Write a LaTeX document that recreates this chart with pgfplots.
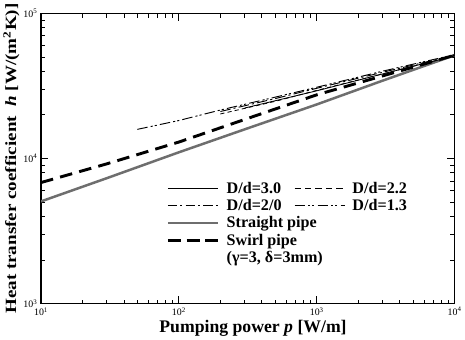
\documentclass[border=0pt]{standalone}
\usepackage{pgfplots}
\pgfplotsset{compat=1.18}
\usepackage{fontspec}
\setmainfont{Liberation Serif}
\definecolor{strgray}{RGB}{110,110,110}
\begin{document}
\begin{tikzpicture}
\begin{axis}[
 xmode=log, ymode=log,
 scale only axis, width=396bp, height=278bp,
 xmin=10, xmax=1e4, ymin=1e3, ymax=1e5,
 axis line style={line width=1.2pt},
 every tick/.style={black, line width=0.8pt},
 major tick length=7bp, minor tick length=4bp,
 tick align=inside,
 xtick={10,100,1000,10000},
 xticklabels={10\textsuperscript{1},10\textsuperscript{2},10\textsuperscript{3},10\textsuperscript{4}},
 ytick={1000,10000,100000},
 yticklabels={10\textsuperscript{3},10\textsuperscript{4},10\textsuperscript{5}},
 ticklabel style={font=\fontsize{9.5}{10}\selectfont},
 xlabel={Pumping power \textit{p} [W/m]},
 ylabel={\scalebox{1.22}[1]{Heat transfer coefficient\ \ \textit{h} [W/(m\textsuperscript{2}K)]}},
 xlabel style={font=\fontsize{17}{19}\selectfont\bfseries, yshift=3bp, xshift=5bp},
 ylabel style={font=\fontsize{15}{17}\selectfont\bfseries, yshift=-3bp},
 legend style={draw=none, fill=none, at={(0.295,0.435)}, anchor=north west,
   font=\fontsize{15.5}{17}\selectfont\bfseries, row sep=0.5bp,
   /tikz/every odd column/.append style={column sep=5bp},
   /tikz/every even column/.append style={column sep=10bp}},
 legend columns=2,
 legend cell align=left,
 legend image code/.code={\draw[#1] (0bp,0bp) -- (48bp,0bp);},
]
\addlegendimage{black, line width=0.8pt}
\addlegendentry{D/d=3.0}
\addlegendimage{black, line width=0.8pt, dash pattern=on 6bp off 4bp}
\addlegendentry{D/d=2.2}
\addlegendimage{black, line width=0.9pt, dash pattern=on 9bp off 3bp on 2bp off 3bp}
\addlegendentry{D/d=2/0}
\addlegendimage{black, line width=0.9pt, dash pattern=on 10bp off 3bp on 2bp off 2bp on 2bp off 3bp}
\addlegendentry{D/d=1.3}
\addlegendimage{strgray, line width=2.4pt}
\addlegendentry{\rlap{Straight pipe}}
\addlegendimage{draw opacity=0, legend image code/.code={\path[draw=none] (0bp,0bp) -- (48bp,0bp);}}
\addlegendentry{}
\addlegendimage{black, line width=2.8pt, dash pattern=on 13bp off 5bp}
\addlegendentry{\rlap{Swirl pipe}}
\addlegendimage{draw opacity=0, legend image code/.code={\path[draw=none] (0bp,0bp) -- (48bp,0bp);}}
\addlegendentry{}
\addlegendimage{draw opacity=0, legend image code/.code={\path[draw=none] (0bp,0bp) -- (48bp,0bp);}}
\addlegendentry{\rlap{(γ=3, δ=3mm)}}

\addplot[forget plot, strgray, line width=2.4pt] coordinates {
(10,5070) (30,7330) (100,11050) (300,15900) (1000,23600) (3000,34400) (10000,51500)};
\addplot[forget plot, black, line width=2.8pt, dash pattern=on 12bp off 7bp] coordinates {
(10,6840) (30,9200) (100,13000) (300,18600) (1000,27500) (3000,37100) (10000,51500)};
\addplot[forget plot, black, line width=0.8pt] coordinates {
(300,22300) (1000,29300) (3000,38300) (10000,51000)};
\addplot[forget plot, black, line width=0.8pt, dash pattern=on 4bp off 3bp] coordinates {
(200,20300) (500,24800) (1000,29500) (3000,38300) (10000,51000)};
\addplot[forget plot, black, line width=0.9pt, dash pattern=on 10bp off 3bp on 2bp off 3bp] coordinates {
(200,21100) (500,25900) (1000,30500) (3000,39300) (10000,51500)};
\addplot[forget plot, black, line width=0.9pt, dash pattern=on 10bp off 3bp on 2bp off 2bp on 2bp off 3bp] coordinates {
(50,15900) (100,18300) (200,21600) (500,26500) (1000,31000) (3000,40000) (10000,52000)};
\end{axis}
\end{tikzpicture}
\end{document}
